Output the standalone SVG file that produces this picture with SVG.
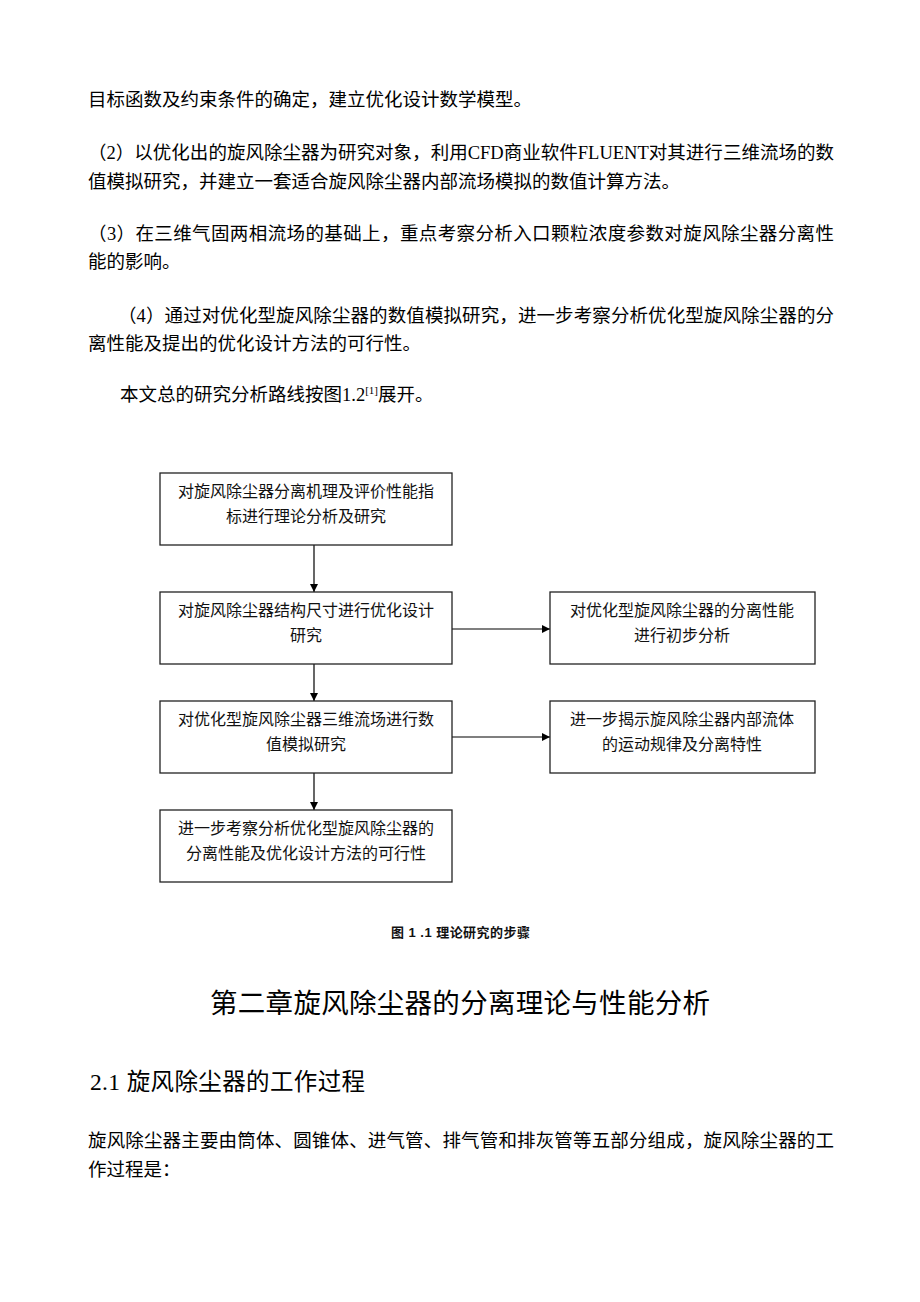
<svg xmlns="http://www.w3.org/2000/svg" width="920" height="1302" viewBox="0 0 920 1302">
<style>
.body{font-family:"Liberation Serif","Noto Sans CJK SC",serif;font-size:18.5px;fill:#000}
.box{fill:#fff;stroke:#222;stroke-width:1.3}
.bt{font-family:"Liberation Serif","Noto Sans CJK SC",serif;font-size:16px;fill:#111;text-anchor:middle}
.conn{stroke:#000;stroke-width:1.2;fill:none}
.cap{font-family:"Liberation Sans","Noto Sans CJK SC",sans-serif;font-size:13px;font-weight:bold;fill:#111}
.h1{font-family:"Liberation Sans","Noto Sans CJK SC",sans-serif;font-size:27.5px;fill:#000}
.h2{font-family:"Liberation Serif","Noto Sans CJK SC",sans-serif;font-size:23.5px;fill:#000}
</style>
<defs>
<marker id="arr" viewBox="0 0 10 10" refX="10" refY="5" markerWidth="9" markerHeight="8" markerUnits="userSpaceOnUse" orient="auto">
<path d="M0,0 L10,5 L0,10 Z" fill="#000"/>
</marker>
</defs>
<rect width="920" height="1302" fill="#fff"/>

<g id="para">
<text class="body" x="88" y="106">目标函数及约束条件的确定，建立优化设计数学模型。</text>
<text class="body" x="88" y="159" textLength="746" lengthAdjust="spacing">（2）以优化出的旋风除尘器为研究对象，利用CFD商业软件FLUENT对其进行三维流场的数</text>
<text class="body" x="88" y="188">值模拟研究，并建立一套适合旋风除尘器内部流场模拟的数值计算方法。</text>
<text class="body" x="88" y="240" textLength="746" lengthAdjust="spacing">（3）在三维气固两相流场的基础上，重点考察分析入口颗粒浓度参数对旋风除尘器分离性</text>
<text class="body" x="88" y="268">能的影响。</text>
<text class="body" x="118" y="322" textLength="716" lengthAdjust="spacing">（4）通过对优化型旋风除尘器的数值模拟研究，进一步考察分析优化型旋风除尘器的分</text>
<text class="body" x="88" y="350">离性能及提出的优化设计方法的可行性。</text>
<text class="body" x="120" y="401">本文总的研究分析路线按图1.2<tspan font-size="11" dy="-7">[1]</tspan><tspan dy="7">展开。</tspan></text>
</g>

<g id="connectors">
<line class="conn" x1="314" y1="545" x2="314" y2="592" marker-end="url(#arr)"/>
<line class="conn" x1="314" y1="664" x2="314" y2="701" marker-end="url(#arr)"/>
<line class="conn" x1="314" y1="773" x2="314" y2="810" marker-end="url(#arr)"/>
<line class="conn" x1="452" y1="629" x2="550" y2="629" marker-end="url(#arr)"/>
<line class="conn" x1="452" y1="737" x2="550" y2="737" marker-end="url(#arr)"/>
</g>

<g id="nodeA">
<rect class="box" x="160" y="473" width="292" height="72"/>
<text class="bt" x="306" y="497">对旋风除尘器分离机理及评价性能指</text>
<text class="bt" x="306" y="522">标进行理论分析及研究</text>
</g>
<g id="nodeB">
<rect class="box" x="160" y="592" width="292" height="72"/>
<text class="bt" x="306" y="616">对旋风除尘器结构尺寸进行优化设计</text>
<text class="bt" x="306" y="641">研究</text>
</g>
<g id="nodeC">
<rect class="box" x="550" y="592" width="265" height="72"/>
<text class="bt" x="682" y="616">对优化型旋风除尘器的分离性能</text>
<text class="bt" x="682" y="641">进行初步分析</text>
</g>
<g id="nodeD">
<rect class="box" x="160" y="701" width="292" height="72"/>
<text class="bt" x="306" y="725">对优化型旋风除尘器三维流场进行数</text>
<text class="bt" x="306" y="750">值模拟研究</text>
</g>
<g id="nodeE">
<rect class="box" x="550" y="701" width="265" height="72"/>
<text class="bt" x="682" y="725">进一步揭示旋风除尘器内部流体</text>
<text class="bt" x="682" y="750">的运动规律及分离特性</text>
</g>
<g id="nodeF">
<rect class="box" x="160" y="810" width="292" height="72"/>
<text class="bt" x="306" y="834">进一步考察分析优化型旋风除尘器的</text>
<text class="bt" x="306" y="859">分离性能及优化设计方法的可行性</text>
</g>

<g id="caption">
<text class="cap" x="391" y="937" textLength="139" lengthAdjust="spacing">图 1 .1 理论研究的步骤</text>
</g>

<g id="headings">
<text class="h1" x="210" y="1013" textLength="500" lengthAdjust="spacing">第二章旋风除尘器的分离理论与性能分析</text>
<text class="h2" x="90" y="1090" textLength="275" lengthAdjust="spacing">2.1 旋风除尘器的工作过程</text>
</g>

<g id="para2">
<text class="body" x="88" y="1147" textLength="746" lengthAdjust="spacing">旋风除尘器主要由筒体、圆锥体、进气管、排气管和排灰管等五部分组成，旋风除尘器的工</text>
<text class="body" x="88" y="1176">作过程是：</text>
</g>
</svg>
